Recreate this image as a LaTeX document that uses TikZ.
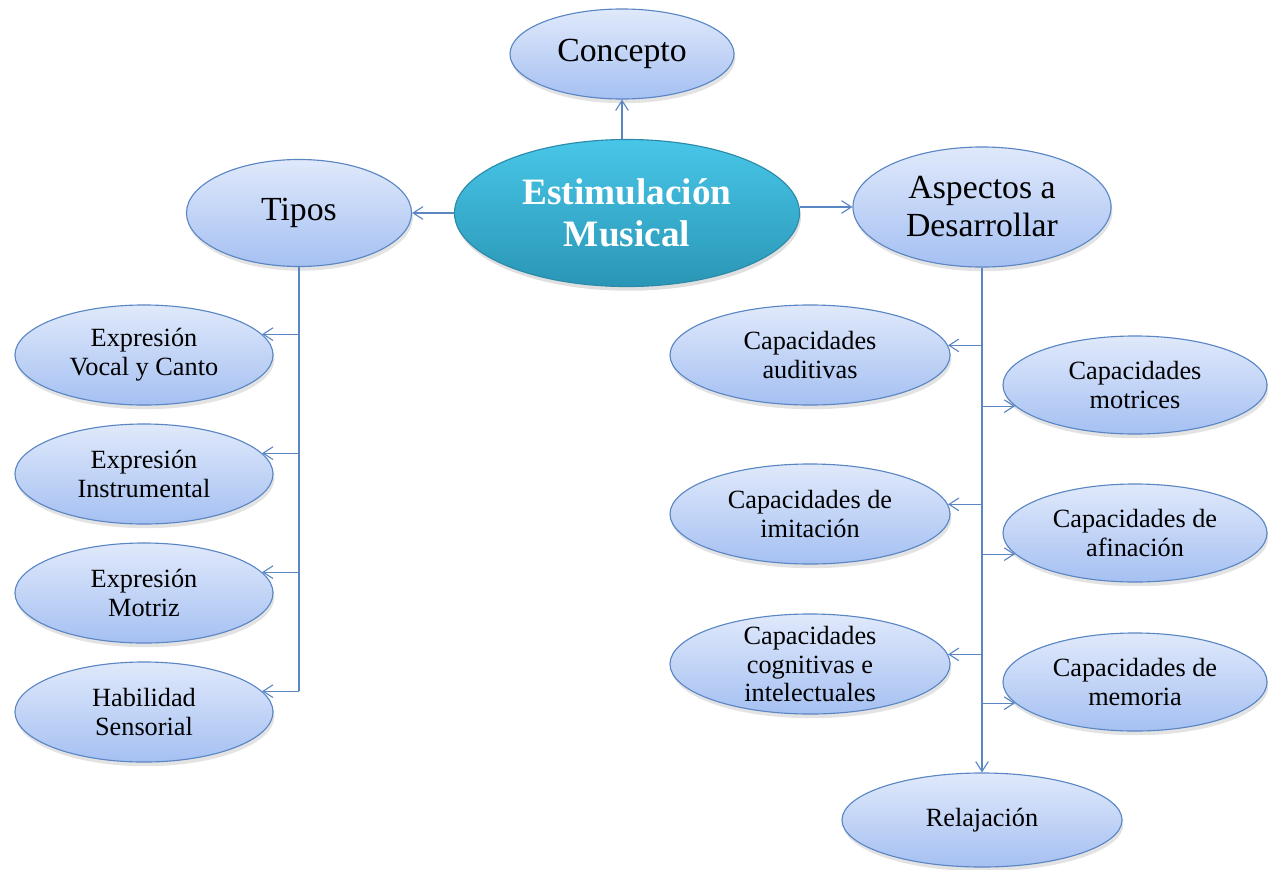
\documentclass[tikz,border=0pt]{standalone}
\usepackage{fontspec}
\setmainfont{Liberation Serif}
\usetikzlibrary{shapes.geometric,arrows.meta,shadows}

\definecolor{borde}{HTML}{5A86C4}
\definecolor{azulClaro}{HTML}{E0E9FB}
\definecolor{azulMedio}{HTML}{A5C0F2}
\definecolor{turquesaClaro}{HTML}{48C6E8}
\definecolor{turquesaOscuro}{HTML}{2A96B6}
\definecolor{bordeCentral}{HTML}{2B8AAA}

\begin{document}
\begin{tikzpicture}[x=0.025cm,y=-0.025cm,
  base/.style={ellipse, draw=borde, line width=0.8pt, inner sep=0pt, align=center,
    top color=azulClaro, bottom color=azulMedio,
    drop shadow={opacity=0.22, shadow xshift=1pt, shadow yshift=-3pt}},
  grande/.style={base, font=\fontsize{24}{27}\selectfont},
  hoja/.style={base, font=\fontsize{18.7}{20.5}\selectfont},
  hojaIzq/.style={hoja, minimum width=6.45cm, minimum height=2.5cm},
  hojaDer/.style={hoja, minimum width=7cm, minimum height=2.5cm},
  hojaExt/.style={hoja, minimum width=6.6cm, minimum height=2.45cm},
  central/.style={ellipse, draw=bordeCentral, line width=0.8pt, inner sep=0pt, align=center,
    top color=turquesaClaro, bottom color=turquesaOscuro, text=white,
    font=\fontsize{26.5}{29.5}\selectfont\bfseries,
    minimum width=8.625cm, minimum height=3.675cm,
    drop shadow={opacity=0.25, shadow xshift=1pt, shadow yshift=-3pt}},
  flecha/.style={draw=borde, line width=0.8pt, -{Straight Barb[length=7pt,width=9pt]}},
  linea/.style={draw=borde, line width=0.8pt}]

\useasboundingbox (0,0) rectangle (1268,869);

% centro y primer nivel
\node[central] (estim) at (627,213) {Estimulación\\Musical};
\node[grande, minimum width=5.6cm, minimum height=2.25cm] (concepto) at (622,54) {Concepto};
\node[grande, minimum width=5.625cm, minimum height=2.675cm] (tipos) at (299,213) {Tipos};
\node[grande, minimum width=6.45cm, minimum height=3cm] (aspectos) at (982,207) {Aspectos a\\Desarrollar};

% tipos
\node[hojaIzq] (vocal) at (144,355) {Expresión\\Vocal y Canto};
\node[hojaIzq] (instrumental) at (144,474) {Expresión\\Instrumental};
\node[hojaIzq] (motriz) at (144,593) {Expresión\\Motriz};
\node[hojaIzq] (habilidad) at (144,712) {Habilidad\\Sensorial};

% aspectos
\node[hojaDer] (auditivas) at (810,355) {Capacidades\\auditivas};
\node[hojaDer] (imitacion) at (810,514) {Capacidades de\\imitación};
\node[hojaDer, inner ysep=-6pt] (cognitivas) at (810,664) {Capacidades\\cognitivas e\\intelectuales};
\node[hojaExt] (motrices) at (1135,385) {Capacidades\\motrices};
\node[hojaExt] (afinacion) at (1135,533) {Capacidades de\\afinación};
\node[hojaExt] (memoria) at (1135,682) {Capacidades de\\memoria};
\node[hojaDer, minimum height=2.35cm] (relajacion) at (982,820) {Relajación};

% conectores
\draw[flecha] (estim.north -| concepto) -- (concepto.south);
\draw[flecha] (estim.west) -- (tipos.east);
\draw[flecha] (estim.east |- aspectos) -- (aspectos.west);

\draw[linea] (tipos.south) -- (tipos.south |- habilidad.10);
\foreach \n in {vocal,instrumental,motriz,habilidad}
  \draw[flecha] (tipos.south |- \n.10) -- (\n.10);

\draw[flecha] (aspectos.south) -- (relajacion.north);
\foreach \n in {auditivas,imitacion,cognitivas}
  \draw[flecha] (aspectos.south |- \n.4) -- (\n.4);
\foreach \n in {motrices,afinacion,memoria}
  \draw[flecha] (aspectos.south |- \n.190) -- (\n.190);
\end{tikzpicture}
\end{document}
